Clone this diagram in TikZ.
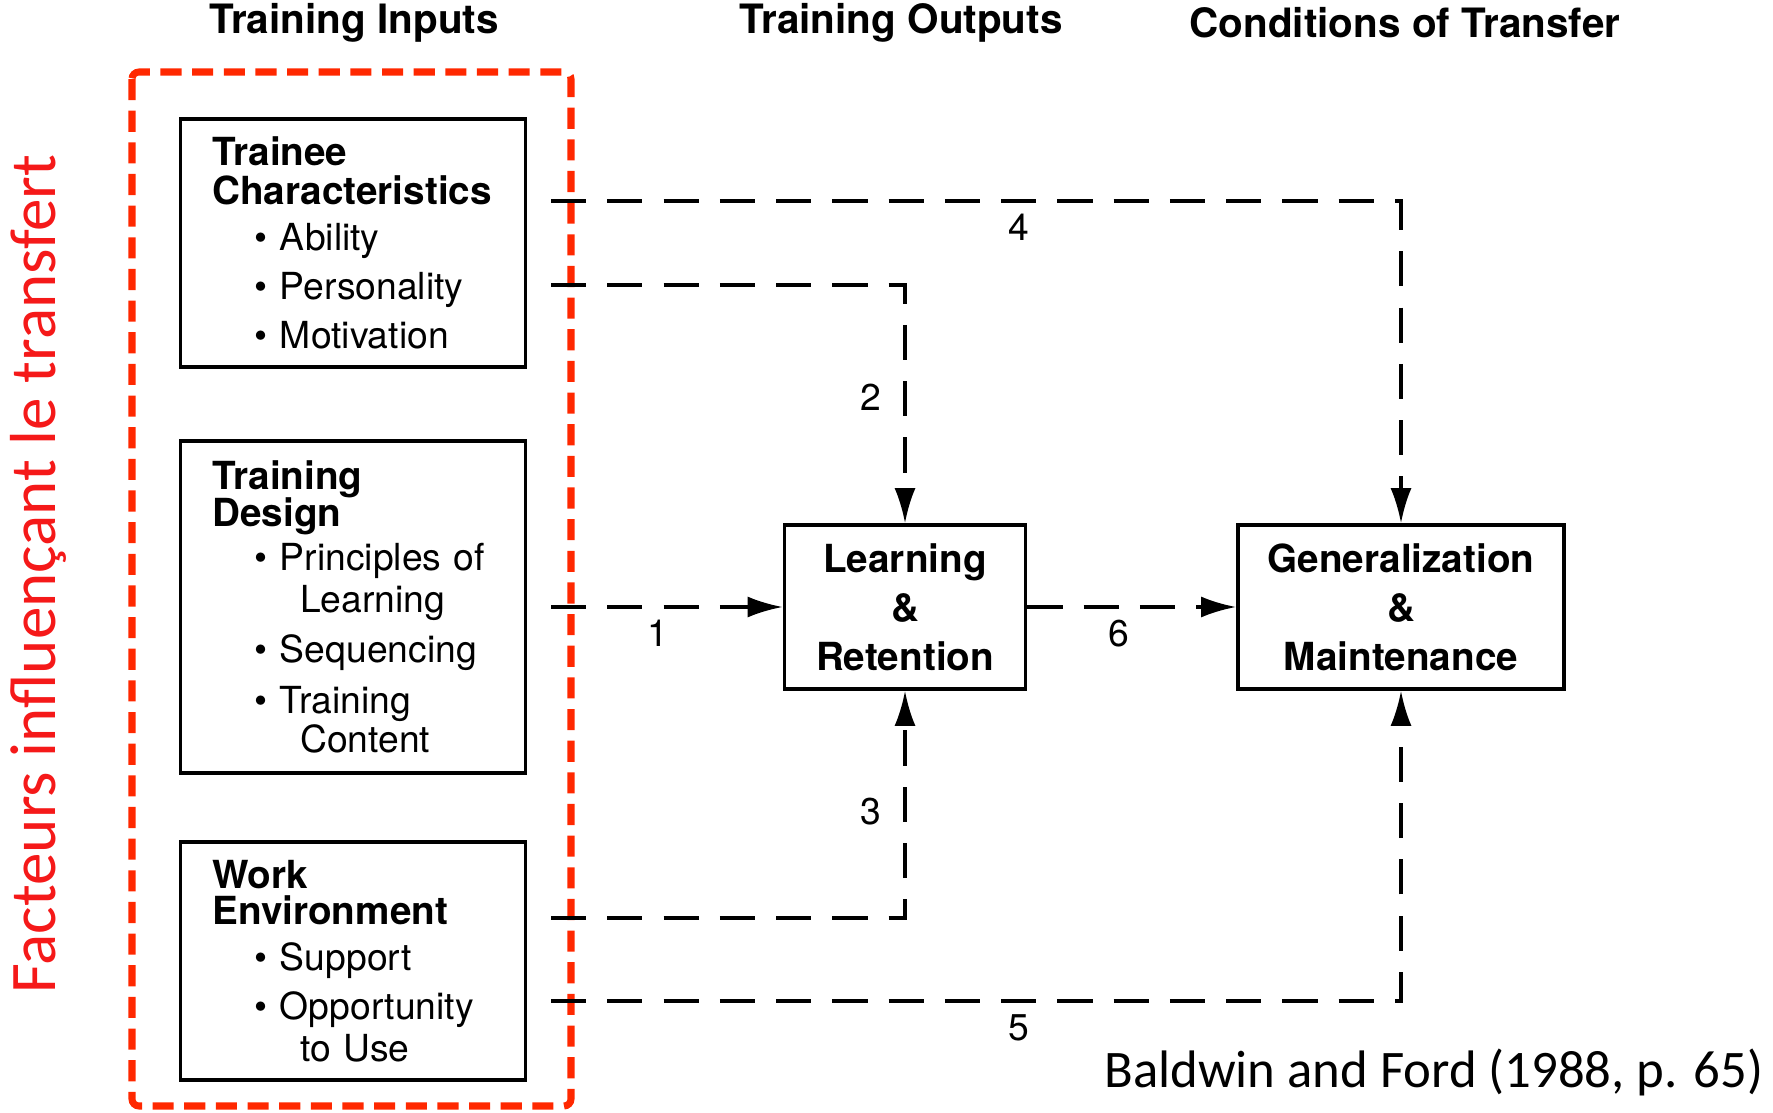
\documentclass[tikz,border=0pt]{standalone}
\usepackage{fontspec}
\setmainfont{TeX Gyre Heros}
\newfontfamily\calibrifont{Carlito}
\usetikzlibrary{arrows.meta}
\definecolor{framered}{RGB}{255,40,0}
\definecolor{notered}{RGB}{245,25,25}
\newcommand{\itm}[1]{\hspace*{12pt}\mbox{\textbullet\ #1}}
\newcommand{\cont}[1]{\hspace*{25pt}\mbox{#1}}

\begin{document}
\begin{tikzpicture}[x=0.01cm, y=-0.01cm, >={Latex[length=10pt,width=6pt]},
        inbox/.style={draw, line width=1pt, inner xsep=9pt, inner ysep=0pt, text width=80pt, align=left, font=\fontsize{10.6}{13}\selectfont},
        outbox/.style={draw, line width=1pt, minimum height=1.64cm, align=center, font=\fontsize{11}{13}\selectfont\bfseries},
        conn/.style={line width=0.9pt, dash pattern=on 10pt off 6pt},
        num/.style={font=\fontsize{10.6}{13}\selectfont},
        head/.style={font=\fontsize{11.5}{13}\selectfont\bfseries}]
        \useasboundingbox (0,0) rectangle (1773,1113);
        % column titles
        \node[head] (tin) at (354,23) {Training Inputs};
        \node[head] (tout) at (901,23) {Training Outputs};
        \node[head] (tcond) at (1405,23) {Conditions of Transfer};
        \draw[framered, line width=2pt, dash pattern=on 6pt off 3pt, rounded corners=2pt] (132,72) rectangle (571,1106);
        \node[rotate=90, text=notered, font=\calibrifont\fontsize{18.5}{20}\selectfont] (factors) at (38,574) {Facteurs influençant le transfert};
        % inputs
        \node[inbox, minimum height=2.48cm] (trainee) at (353,243) {\fontsize{11}{13}\selectfont\textbf{Trainee}\\[-2pt]\textbf{Characteristics}\\[0pt]\fontsize{10.6}{13}\selectfont\itm{Ability}\\[1pt]\itm{Personality}\\[1pt]\itm{Motivation}};
        \node[inbox, minimum height=3.32cm] (design) at (353,607) {\fontsize{11}{13}\selectfont\textbf{Training}\\[-2.4pt]\textbf{Design}\\[-0.5pt]\fontsize{10.6}{13}\selectfont\itm{Principles of}\\[-1pt]\cont{Learning}\\[1pt]\itm{Sequencing}\\[1.5pt]\itm{Training}\\[-1.7pt]\cont{Content}};
        \node[inbox, minimum height=2.38cm] (work) at (353,961) {\fontsize{11}{13}\selectfont\textbf{Work}\\[-2.7pt]\textbf{Environment}\\[0pt]\fontsize{10.6}{13}\selectfont\itm{Support}\\[1pt]\itm{Opportunity}\\[-1pt]\cont{to Use}};
        % outputs
        \node[outbox, minimum width=2.41cm] (learn) at (905,607) {Learning\\[1pt]\&\\[1pt]Retention};
        \node[outbox, minimum width=3.26cm] (general) at (1401,607) {Generalization\\[1pt]\&\\[1pt]Maintenance};
        \coordinate (c4) at (551,201);
        \coordinate (c2) at (551,285);
        \coordinate (c1) at (551,607);
        \coordinate (c3) at (551,918);
        \coordinate (c5) at (551,1001);
        \draw[conn,->] (c4) -- node[num,below=0pt,pos=.55]{4} (c4 -| general.north) -- (general.north);
        \draw[conn,->] (c2) -- (c2 -| learn.north) -- node[num,left=3pt,pos=.47]{2} (learn.north);
        \draw[conn,->] (c1) -- node[num,below=0pt,pos=.46]{1} (learn.west);
        \draw[conn,->] (learn.east) -- node[num,below=0pt,pos=.44]{6} (general.west);
        \draw[conn,->] (c3) -- (c3 -| learn.south) -- node[num,left=3pt,pos=.47]{3} (learn.south);
        \draw[conn,->] (c5) -- node[num,below=0pt,pos=.55]{5} (c5 -| general.south) -- (general.south);
        \node[anchor=east, inner sep=0pt, font=\calibrifont\fontsize{15}{18}\selectfont] (source) at (1764,1072) {Baldwin and Ford (1988, p. 65)};
    \end{tikzpicture}
\end{document}
